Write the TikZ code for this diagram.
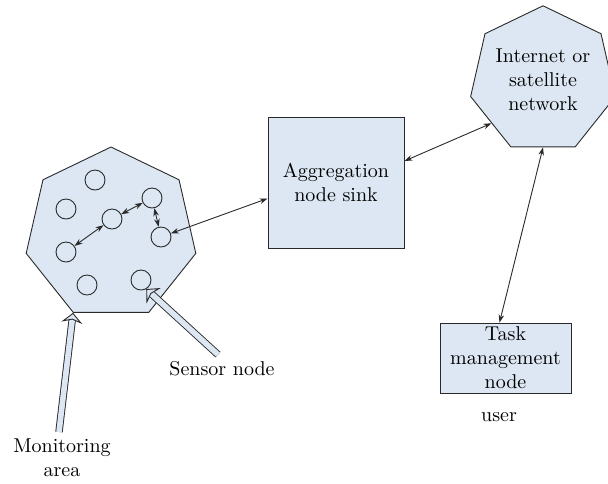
\documentclass[tikz,border=0pt]{standalone}
\usetikzlibrary{shapes.geometric,arrows.meta}
\definecolor{areablue}{HTML}{DCE7F3}
\definecolor{edge}{HTML}{2A2A2A}

\begin{document}
\begin{tikzpicture}[x=0.5pt,y=-0.5pt,line width=0.45pt,
    box/.style={draw=edge,fill=areablue,align=center,inner sep=1pt},
    hepta/.style={regular polygon,regular polygon sides=7,draw=edge,fill=areablue,align=center,inner sep=0pt},
    sensor/.style={circle,draw=edge,fill=areablue,minimum size=10pt,inner sep=0pt},
    link/.style={{Stealth[length=4pt,width=2.8pt]}-{Stealth[length=4pt,width=2.8pt]},line width=0.45pt,draw=edge},
    hollow/.style={line width=0.45pt,draw=edge,double=areablue,double distance=2.8pt,
        -{Stealth[open,fill=areablue,length=5pt,width=10.5pt,inset=1.6pt]}}]
    \useasboundingbox (0,0) rectangle (608,483);

    % Monitoring area and its sensor nodes
    \node[hepta,minimum size=87pt] (area) at (111,234) {};
    \node[sensor] (s1) at (95,180) {};
    \node[sensor] (s2) at (66,209) {};
    \node[sensor] (s3) at (112,219) {};
    \node[sensor] (s4) at (152,198) {};
    \node[sensor] (s5) at (66,252) {};
    \node[sensor] (s6) at (161,237) {};
    \node[sensor] (s7) at (87,285) {};
    \node[sensor] (s8) at (141,280) {};

    % Sink, network and user side
    \node[box,minimum width=68pt,minimum height=65.5pt] (agg) at (336,182.5) {Aggregation\\node sink};
    \node[hepta,minimum size=73.5pt] (net) at (543,80) {Internet or\\satellite\\network};
    \node[box,minimum width=65.5pt,minimum height=35pt] (task) at (505.5,358) {Task\\management\\node};
    \node (user) at (499,417) {user};

    % Labels
    \node (sens) at (222,369) {Sensor node};
    \node[align=center] (mon) at (62,458) {Monitoring\\area};

    % Multi-hop route to the sink
    \draw[link] (s5) -- (s3);
    \draw[link] (s3) -- (s4);
    \draw[link] (s4) -- (s6);
    \draw[link] (s6) -- ([yshift=-8pt]agg.west);
    \draw[link] ([yshift=10.75pt]agg.east) -- (net.220);
    \draw[link] (net.south) -- ([xshift=-3pt]task.north);

    % Pointers
    \draw[hollow] ([xshift=-1.5pt]mon.north) -- (area.corner 4);
    \draw[hollow] ([xshift=-2pt]sens.north) -- (s8.-60);
\end{tikzpicture}
\end{document}
